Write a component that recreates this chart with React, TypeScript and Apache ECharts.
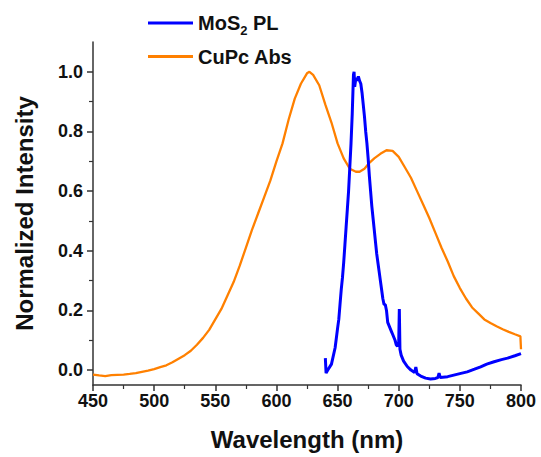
import React, { useEffect, useRef } from "react";
import * as echarts from "echarts";

const xTicks = [450, 500, 550, 600, 650, 700, 750, 800];
const yTickValues = [0, 0.2, 0.4, 0.6, 0.8, 1.0];
const yMinorValues = [0.1, 0.3, 0.5, 0.7, 0.9];

const seriesNames = ["MoS2 PL", "CuPc Abs"];

const mos2PL: [number, number][] = [
  [640, 0.04], [640.6, -0.01], [642, 0.0], [645, 0.02], [648, 0.075], [650, 0.14], [651, 0.17],
  [652, 0.22], [653, 0.27], [654, 0.31], [655, 0.36], [656, 0.42], [657, 0.48], [658, 0.54],
  [659, 0.6], [660, 0.68], [661, 0.76], [662, 0.86], [663, 0.99], [663.5, 1.0], [664, 0.95],
  [665, 0.98], [666, 0.97], [667, 0.985], [668, 0.97], [669, 0.96], [670, 0.93], [671, 0.89],
  [672, 0.85], [673, 0.8], [674, 0.76], [675, 0.71], [676, 0.65], [677, 0.6], [678, 0.55],
  [679, 0.51], [680, 0.47], [681, 0.43], [682, 0.39], [683, 0.36], [684, 0.33], [685, 0.3],
  [686, 0.27], [687, 0.24], [688, 0.22], [689, 0.22], [690, 0.2], [691, 0.16], [692, 0.15],
  [693, 0.14], [694, 0.13], [695, 0.12], [696, 0.11], [697, 0.1], [698, 0.085], [699, 0.08],
  [700, 0.09], [700.5, 0.205], [701, 0.07], [702, 0.05], [704, 0.03], [707, 0.012], [710, 0.0],
  [713, -0.008], [714, 0.01], [715, -0.012], [718, -0.02], [722, -0.027], [726, -0.03],
  [730, -0.028], [732, -0.025], [733, -0.01], [734, -0.025], [740, -0.022], [745, -0.017],
  [750, -0.012], [756, -0.006], [762, 0.003], [767, 0.011], [772, 0.02], [778, 0.028],
  [784, 0.035], [789, 0.04], [795, 0.048], [800, 0.055],
];

const cupcAbs: [number, number][] = [
  [450, -0.015], [455, -0.018], [460, -0.02], [465, -0.017], [470, -0.016], [475, -0.015],
  [480, -0.013], [485, -0.01], [490, -0.006], [495, -0.002], [500, 0.003], [505, 0.01],
  [510, 0.016], [515, 0.026], [520, 0.038], [525, 0.05], [530, 0.065], [535, 0.085],
  [540, 0.108], [545, 0.135], [550, 0.17], [555, 0.205], [560, 0.25], [565, 0.295],
  [570, 0.35], [575, 0.41], [580, 0.47], [585, 0.525], [590, 0.58], [595, 0.635], [600, 0.7],
  [605, 0.76], [610, 0.84], [615, 0.91], [620, 0.96], [625, 0.995], [627, 1.0], [630, 0.99],
  [635, 0.955], [640, 0.89], [645, 0.83], [650, 0.76], [655, 0.71], [660, 0.675], [665, 0.665],
  [668, 0.665], [672, 0.675], [676, 0.695], [680, 0.71], [685, 0.725], [690, 0.737],
  [695, 0.735], [700, 0.715], [705, 0.68], [710, 0.645], [715, 0.6], [720, 0.555], [725, 0.51],
  [730, 0.46], [735, 0.41], [740, 0.365], [745, 0.315], [750, 0.275], [755, 0.24], [760, 0.21],
  [765, 0.19], [770, 0.17], [775, 0.158], [780, 0.147], [785, 0.137], [790, 0.128], [795, 0.12],
  [799.5, 0.113], [800, 0.07],
];

const FONT = "Arial, 'Liberation Sans', sans-serif";
const AXIS_COLOR = "#333";

export default function App() {
  const ref = useRef<HTMLDivElement>(null);
  useEffect(() => {
    if (!ref.current) return;
    const chart = echarts.init(ref.current, null, { renderer: "svg" });
    chart.setOption({
      animation: false,
      backgroundColor: "#fff",
      grid: { left: 93, right: 20, top: 42, bottom: 72, containLabel: false },
      legend: {
        data: seriesNames,
        orient: "vertical",
        left: 148,
        top: 13,
        padding: 0,
        itemGap: 10,
        itemWidth: 45,
        itemHeight: 3,
        icon: "rect",
        formatter: (name: string) =>
          name === "MoS2 PL" ? "{a|MoS}{s|2}{a| PL}" : "{a|" + name + "}",
        textStyle: {
          rich: {
            a: { fontFamily: FONT, fontWeight: "bold", fontSize: 20, color: "#111" },
            s: { fontFamily: FONT, fontWeight: "bold", fontSize: 13, color: "#111", padding: [14, 0, 0, 0] },
          },
        },
      },
      xAxis: {
        type: "value",
        min: 450,
        max: 800,
        interval: 50,
        name: "Wavelength (nm)",
        nameLocation: "middle",
        nameGap: 42,
        nameTextStyle: { fontFamily: FONT, fontWeight: "bold", fontSize: 24, color: "#111" },
        axisLine: { show: true, onZero: false, lineStyle: { color: AXIS_COLOR, width: 1.5 } },
        axisTick: { show: true, inside: false, length: 6, lineStyle: { color: AXIS_COLOR, width: 1.5 } },
        minorTick: { show: true, splitNumber: 2, length: 4, lineStyle: { color: AXIS_COLOR, width: 1.2 } },
        axisLabel: {
          margin: 7,
          fontFamily: FONT,
          fontWeight: "bold",
          fontSize: 18,
          color: "#111",
          customValues: xTicks,
        },
        splitLine: { show: false },
      },
      yAxis: [
        {
          type: "value",
          min: -0.05,
          max: 1.1,
          name: "Normalized Intensity",
          nameLocation: "middle",
          nameGap: 57,
          nameTextStyle: { fontFamily: FONT, fontWeight: "bold", fontSize: 24, color: "#111" },
          axisLine: { show: true, onZero: false, lineStyle: { color: AXIS_COLOR, width: 1.5 } },
          axisTick: {
            show: true,
            inside: false,
            length: 6,
            customValues: yTickValues,
            lineStyle: { color: AXIS_COLOR, width: 1.5 },
          },
          axisLabel: {
            margin: 10,
            fontFamily: FONT,
            fontWeight: "bold",
            fontSize: 18,
            color: "#111",
            customValues: yTickValues,
            formatter: (v: number) => v.toFixed(1),
          },
          splitLine: { show: false },
        },
        {
          type: "value",
          min: -0.05,
          max: 1.1,
          position: "left",
          axisLine: { show: false },
          axisTick: {
            show: true,
            inside: false,
            length: 4,
            customValues: yMinorValues,
            lineStyle: { color: AXIS_COLOR, width: 1.2 },
          },
          axisLabel: { show: false },
          splitLine: { show: false },
        },
      ],
      series: [
        {
          name: "CuPc Abs",
          type: "line",
          data: cupcAbs,
          showSymbol: false,
          symbol: "none",
          lineStyle: { color: "#ff8000", width: 2.3 },
          itemStyle: { color: "#ff8000" },
          z: 2,
        },
        {
          name: "MoS2 PL",
          type: "line",
          data: mos2PL,
          showSymbol: false,
          symbol: "none",
          lineStyle: { color: "#0000ff", width: 3 },
          itemStyle: { color: "#0000ff" },
          z: 3,
        },
      ],
    });
    return () => chart.dispose();
  }, []);
  return (
    <div
      ref={ref}
      style={{ position: "fixed", left: 0, top: 0, width: 541, height: 457 }}
    />
  );
}
